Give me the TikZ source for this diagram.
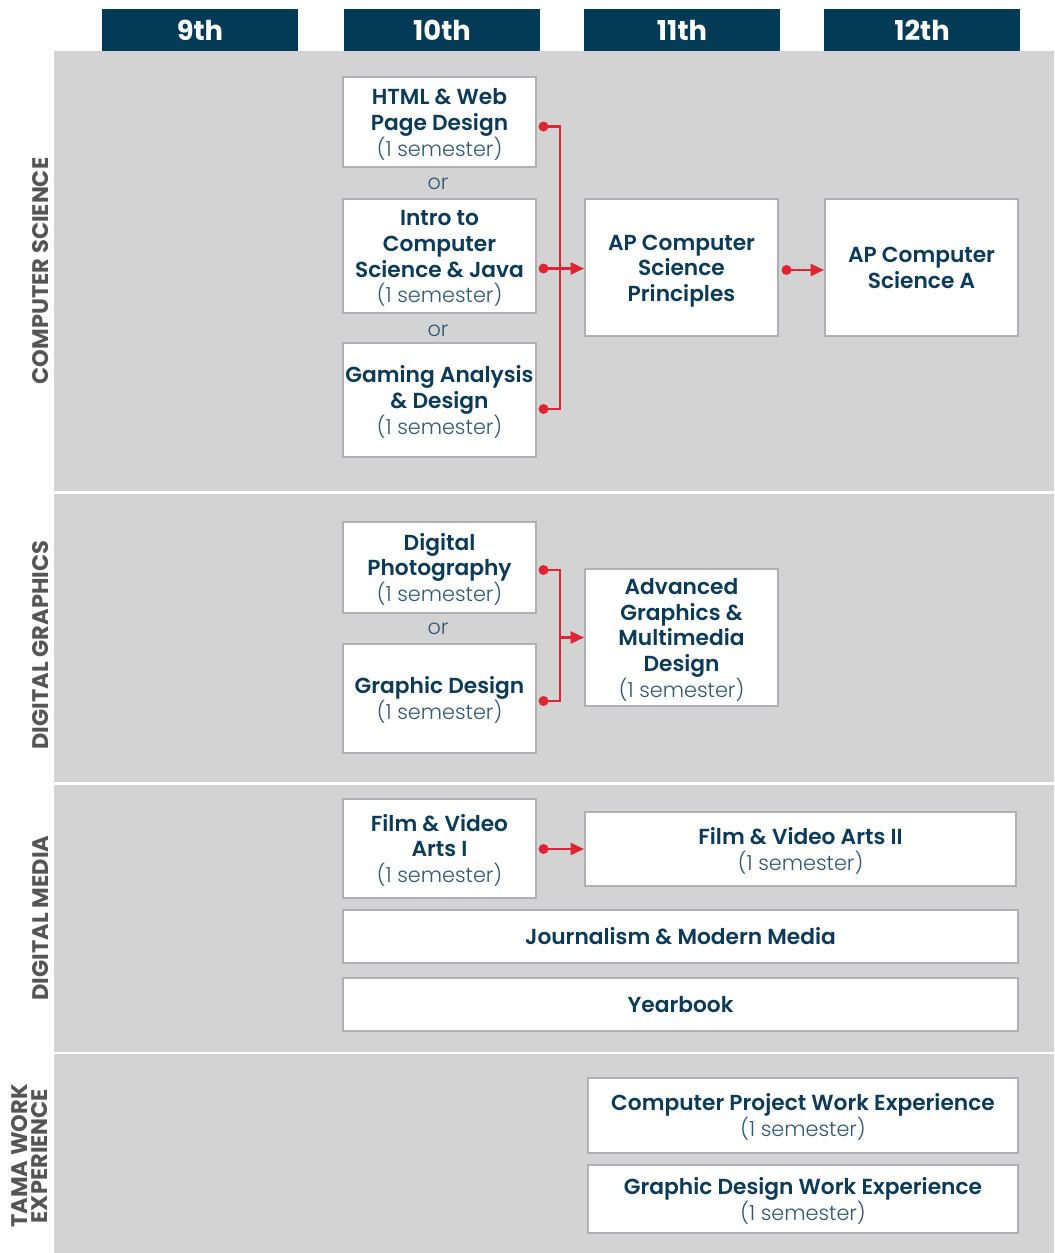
\documentclass[tikz,border=0pt]{standalone}
\usepackage{fontspec}
\setmainfont{Poppins}[BoldFont={Poppins SemiBold}]
\newfontfamily\lightfont{Poppins Light}
\newfontfamily\heavyfont{Poppins Bold}
\usetikzlibrary{arrows.meta,calc}
\definecolor{navy}{HTML}{033A56}
\definecolor{txtnavy}{HTML}{0B3B58}
\definecolor{semcol}{HTML}{2F5872}
\definecolor{bandgray}{HTML}{D3D3D3}
\definecolor{boxline}{HTML}{B0B0B4}
\definecolor{arrred}{HTML}{E02431}
\definecolor{labgray}{HTML}{555555}
\newcommand\tstr{\rule{0pt}{17.5pt}}
\newcommand\bstr{\rule[-5pt]{0pt}{5pt}}
\newcommand\onesem{{\lightfont\mdseries\fontsize{15.6}{19.3}\selectfont\color{semcol}(1 semester)}\bstr}
\begin{document}
\begin{tikzpicture}[x=0.75pt,y=-0.75pt,
  course/.style={draw=boxline, line width=1.5pt, fill=white, inner sep=0pt, align=center,
    font=\fontsize{16.3}{19.3}\selectfont\bfseries, text=txtnavy, minimum width=144.75pt},
  ortext/.style={inner sep=0pt, font=\fontsize{15.6}{18}\selectfont\lightfont, text=semcol},
  yearhead/.style={fill=navy, text=white, inner sep=0pt, minimum width=147pt, minimum height=31.5pt,
    font=\fontsize{20.5}{22}\selectfont\heavyfont},
  sidelabel/.style={rotate=90, inner sep=0pt, align=center, text=labgray,
    font=\fontsize{16.9}{15}\selectfont\heavyfont},
  link/.style={draw=arrred, line width=1.9pt},
  tip/.style={-{Triangle[length=10pt,width=9pt]}},
  dot/.style={fill=arrred}
]
\useasboundingbox (0,0) rectangle (1054,1253);
% bands
\fill[bandgray] (54,51) rectangle (1054,491);
\fill[bandgray] (54,494) rectangle (1054,782);
\fill[bandgray] (54,785) rectangle (1054,1051.5);
\fill[bandgray] (54,1054) rectangle (1054,1253);
% headers
\node[yearhead] (h9) at (200,30) {9th};
\node[yearhead] (h10) at (442,30) {10th};
\node[yearhead] (h11) at (682,30) {11th};
\node[yearhead] (h12) at (922,30) {12th};
% side labels
\node[sidelabel] (lcs) at (41,271) {COMPUTER SCIENCE};
\node[sidelabel] (ldg) at (41,645) {DIGITAL GRAPHICS};
\node[sidelabel] (ldm) at (41,918) {DIGITAL MEDIA};
\node[sidelabel] (ltw) at (30,1156) {TAMA WORK\\EXPERIENCE};
% computer science
\node[course, minimum height=67.5pt] (html) at (439.5,122) {\tstr HTML \& Web\\Page Design\\\onesem};
\node[ortext] (or1) at (438,184) {or};
\node[course, minimum height=85.5pt] (intro) at (439.5,256) {\tstr Intro to\\Computer\\Science \& Java\\\onesem};
\node[ortext] (or2) at (438,331) {or};
\node[course, minimum height=85.5pt] (gaming) at (439.5,400) {\tstr Gaming Analysis\\\& Design\\\onesem};
\node[course, minimum height=102.75pt] (apcsp) at (681.5,267.5) {\tstr AP Computer\\Science\\Principles\bstr};
\node[course, minimum height=102.75pt] (apcsa) at (921.5,267.5) {\tstr AP Computer\\Science A\bstr};
% digital graphics
\node[course, minimum height=68.25pt] (photo) at (439.5,567.5) {\tstr Digital\\Photography\\\onesem};
\node[ortext] (or3) at (438,629) {or};
\node[course, minimum height=81.75pt] (graphic) at (439.5,698.5) {\tstr Graphic Design\\\onesem};
\node[course, minimum height=102.75pt] (adv) at (681.5,637.5) {\tstr Advanced\\Graphics \&\\Multimedia\\Design\\\onesem};
% digital media
\node[course, minimum height=74.25pt] (film1) at (439.5,848.5) {\tstr Film \& Video\\Arts I\\\onesem};
\node[course, minimum width=323.25pt, minimum height=55.5pt] (film2) at (800.5,849) {\tstr Film \& Video Arts II\\\onesem};
\node[course, minimum width=506.25pt, minimum height=39.75pt] (journ) at (680.5,936.5) {\tstr Journalism \& Modern Media\bstr};
\node[course, minimum width=506.25pt, minimum height=39.75pt] (year) at (680.5,1004.5) {\tstr Yearbook\bstr};
% work experience
\node[course, minimum width=322.5pt, minimum height=56.25pt] (cpwe) at (803,1115.5) {\tstr Computer Project Work Experience\\\onesem};
\node[course, minimum width=322.5pt, minimum height=51pt] (gdwe) at (803,1199) {\tstr Graphic Design Work Experience\\\onesem};
% connectors CS
\coordinate (d1) at ($(html.east)+(6.5,4.5)$);
\coordinate (d2) at ($(intro.east)+(6.5,12.5)$);
\coordinate (d3) at ($(gaming.east)+(6.5,9)$);
\coordinate (j1) at ($(d2)+(16.5,0)$);
\draw[link] (d1) -| (j1) |- (d3);
\draw[link,tip] (d2) -- (d2 -| apcsp.west);
\fill[dot] (d1) circle (3.75pt);
\fill[dot] (d2) circle (3.75pt);
\fill[dot] (d3) circle (3.75pt);
\coordinate (d4) at ($(apcsp.east)+(7.5,2.5)$);
\draw[link,tip] (d4) -- (d4 -| apcsa.west);
\fill[dot] (d4) circle (3.75pt);
% connectors DG
\coordinate (d5) at ($(photo.east)+(6.5,2.5)$);
\coordinate (d6) at ($(graphic.east)+(6.5,2.5)$);
\coordinate (j2) at ($(d5 |- adv.west)+(16.5,0)$);
\draw[link] (d5) -| (j2) |- (d6);
\draw[link,tip] (j2) -- (adv.west);
\fill[dot] (d5) circle (3.75pt);
\fill[dot] (d6) circle (3.75pt);
% connector DM
\coordinate (d7) at ($(film1.east)+(6.5,0.5)$);
\draw[link,tip] (d7) -- (d7 -| film2.west);
\fill[dot] (d7) circle (3.75pt);
\end{tikzpicture}
\end{document}
